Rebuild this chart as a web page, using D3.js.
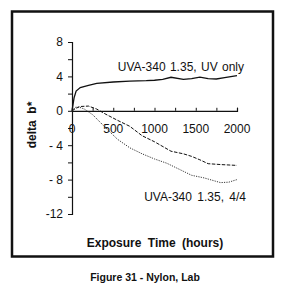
<!DOCTYPE html>
<html><head><meta charset="utf-8">
<script src="https://cdn.jsdelivr.net/npm/d3@7"></script>
<style>body{margin:0;background:#fff}svg{display:block}text{font-family:"Liberation Sans",Arial,sans-serif;fill:#111}</style>
</head><body>
<script>
const xTicks = [0, 500, 1000, 1500, 2000];
const yTicks = [8, 4, 0, -4, -8, -12];
const yTickLabels = ["8", "4", "0", "- 4", "- 8", "-12"];
const uvOnlyX = [0, 25, 50, 100, 200, 300, 500, 700, 900, 1000, 1100, 1200, 1350, 1450, 1550, 1650, 1750, 1850, 2000];
const uvOnlyY = [0, 1.5, 2.3, 2.7, 2.95, 3.2, 3.35, 3.45, 3.5, 3.55, 3.65, 3.9, 3.65, 3.75, 3.92, 3.75, 3.7, 3.85, 4.1];
const dashX = [0, 50, 100, 200, 300, 400, 550, 700, 850, 1000, 1200, 1350, 1450, 1550, 1650, 1800, 2000];
const dashY = [0, 0.3, 0.5, 0.55, 0.2, -0.35, -1.1, -1.8, -2.9, -3.6, -4.7, -5.0, -5.3, -5.7, -6.15, -6.25, -6.35];
const dotX = [0, 40, 80, 150, 250, 400, 550, 700, 850, 1000, 1150, 1300, 1450, 1600, 1800, 1900, 2000];
const dotY = [0, 0.4, 0.45, 0.2, -0.45, -1.9, -3.3, -4.3, -5.0, -5.6, -6.1, -6.8, -7.5, -7.8, -8.35, -8.3, -8.0];
const labelTop = "UVA-340 1.35, UV only";
const labelBottom = "UVA-340 1.35, 4/4";

const svg = d3.select("body").append("svg").attr("width", 291).attr("height", 291);
const x = d3.scaleLinear().domain([0, 2000]).range([72, 237]);
const y = d3.scaleLinear().domain([8, -12]).range([42, 214]);

svg.append("rect").attr("x", 12).attr("y", 11.5).attr("width", 261).attr("height", 245)
  .attr("fill", "none").attr("stroke", "#111").attr("stroke-width", 2.5);

// y axis
const yAxis = d3.axisLeft(y).tickValues(d3.range(-12, 9, 2)).tickSize(4)
  .tickFormat(d => { const i = yTicks.indexOf(d); return i >= 0 ? yTickLabels[i] : ""; });
const gy = svg.append("g").attr("transform", `translate(${x(0)},0)`).call(yAxis);
gy.select(".domain").attr("stroke", "#111").attr("stroke-width", 1.2);
gy.selectAll(".tick line").attr("stroke", "#111");
gy.selectAll("text").style("font-size", "12px").attr("x", -9).attr("fill", "#111");

// x axis along y=0
const xAxis = d3.axisTop(x).tickValues(d3.range(0, 2001, 250)).tickSize(3).tickFormat("");
const gx = svg.append("g").attr("transform", `translate(0,${y(0)})`).call(xAxis);
gx.select(".domain").attr("stroke", "#111").attr("stroke-width", 1.2);
gx.selectAll(".tick line").attr("stroke", "#111");
svg.append("g").selectAll("text").data(xTicks).join("text")
  .attr("x", d => x(d)).attr("y", y(0) + 22).attr("text-anchor", "middle")
  .style("font-size", "12px").text(d => d);

const line = d3.line().x(d => x(d[0])).y(d => y(d[1]));
svg.append("path").datum(uvOnlyX.map((v, i) => [v, uvOnlyY[i]])).attr("d", line)
  .attr("fill", "none").attr("stroke", "#111").attr("stroke-width", 1.3);
svg.append("path").datum(dashX.map((v, i) => [v, dashY[i]])).attr("d", line)
  .attr("fill", "none").attr("stroke", "#111").attr("stroke-width", 1).attr("stroke-dasharray", "3.5,1.5");
svg.append("path").datum(dotX.map((v, i) => [v, dotY[i]])).attr("d", line)
  .attr("fill", "none").attr("stroke", "#222").attr("stroke-width", 0.9).attr("stroke-dasharray", "1.2,1.2");

svg.append("text").attr("x", 244).attr("y", 71).attr("text-anchor", "end")
  .style("font-size", "12px").style("word-spacing", "1px").text(labelTop);
svg.append("text").attr("x", 246).attr("y", 201).attr("text-anchor", "end")
  .style("font-size", "12px").style("word-spacing", "2px").text(labelBottom);

svg.append("text").attr("transform", "translate(36,125) rotate(-90)").attr("text-anchor", "middle")
  .style("font-size", "12px").style("font-weight", "bold").style("white-space", "pre").text("delta  b*");
svg.append("text").attr("x", 155).attr("y", 247).attr("text-anchor", "middle")
  .style("font-size", "12px").style("font-weight", "bold").style("word-spacing", "3px").text("Exposure Time (hours)");
svg.append("text").attr("x", 145).attr("y", 281).attr("text-anchor", "middle")
  .style("font-size", "10.5px").style("font-weight", "bold").text("Figure 31 - Nylon, Lab");
</script>
</body></html>
